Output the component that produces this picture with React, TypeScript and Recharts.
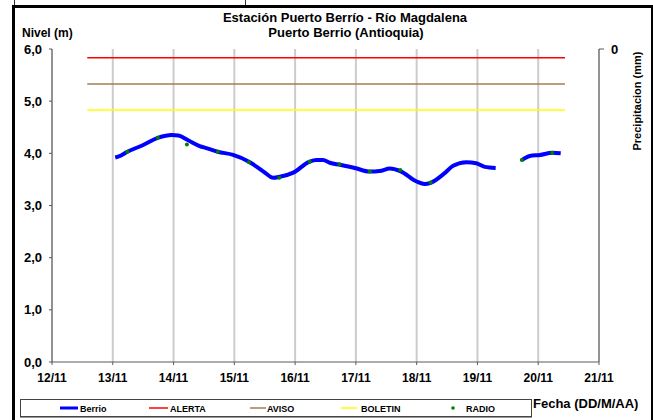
import React from 'react';
import { ComposedChart, Line, XAxis, YAxis, CartesianGrid, Legend } from 'recharts';

const xTicks = [12, 13, 14, 15, 16, 17, 18, 19, 20, 21];
const yTicks = [0, 1, 2, 3, 4, 5, 6];
const gridY = [0, 0.5, 1, 1.5, 2, 2.5, 3, 3.5, 4, 4.5, 5, 5.5, 6];
const precipTicks = [0];

const berrioDays = [13.04, 13.1, 13.24, 13.5, 13.75, 13.97, 14.08, 14.24, 14.43, 14.54, 14.73, 14.98, 15.24, 15.48, 15.64, 15.75, 15.97, 16.24, 16.35, 16.46, 16.57, 16.74, 16.98, 17.23, 17.39, 17.56, 17.73, 18.0, 18.13, 18.24, 18.44, 18.6, 18.82, 18.98, 19.12, 19.3, 19.5, 19.73, 19.86, 20.03, 20.23, 20.37];
const berrioLevels: (number | null)[] = [3.92, 3.94, 4.03, 4.16, 4.3, 4.35, 4.34, 4.25, 4.14, 4.1, 4.03, 3.97, 3.84, 3.65, 3.53, 3.55, 3.63, 3.84, 3.87, 3.87, 3.82, 3.78, 3.72, 3.65, 3.66, 3.71, 3.66, 3.46, 3.41, 3.44, 3.6, 3.76, 3.83, 3.81, 3.74, 3.72, null, 3.87, 3.95, 3.97, 4.01, 4.0];

const radioDays = [13.24, 13.74, 14.22, 14.73, 15.24, 15.74, 16.24, 16.73, 17.23, 17.73, 18.23, 19.73, 20.23];
const radioLevels = [4.03, 4.3, 4.17, 4.03, 3.83, 3.53, 3.84, 3.79, 3.65, 3.68, 3.44, 3.87, 4.01];

const thresholdDays = [12.58, 20.44];
const alerta = 5.83;
const aviso = 5.33;
const boletin = 4.83;

const berrioData = berrioDays.map((x, i) => ({ x, y: berrioLevels[i] }));
const radioData = radioDays.map((x, i) => ({ x, y: radioLevels[i] }));
const alertaData = thresholdDays.map((x) => ({ x, y: alerta }));
const avisoData = thresholdDays.map((x) => ({ x, y: aviso }));
const boletinData = thresholdDays.map((x) => ({ x, y: boletin }));
const precipData = thresholdDays.map((x) => ({ x, y: 0 }));

const FONT = '"Liberation Sans", Arial, sans-serif';
const AXIS = '#5a5a5a';

const LegendBox = () => (
  <svg width={512} height={19} style={{ display: 'block' }}>
    <rect x={0.5} y={0.5} width={511} height={17} fill="#fff" stroke="#444" strokeWidth={1} />
    <line x1={0} y1={18.5} x2={512} y2={18.5} stroke="#999" strokeWidth={1} />
    <g fontFamily={FONT} fontWeight="bold" fontSize={9} fill="#000">
      <line x1={40} y1={9} x2={58} y2={9} stroke="#0000ff" strokeWidth={3} />
      <text x={60} y={12.5}>Berrio</text>
      <line x1={129} y1={9} x2={148} y2={9} stroke="#ff0000" strokeWidth={1.5} />
      <text x={150} y={12.5}>ALERTA</text>
      <line x1={230} y1={9} x2={246} y2={9} stroke="#a57c52" strokeWidth={1.5} />
      <text x={247} y={12.5}>AVISO</text>
      <line x1={321} y1={9} x2={337} y2={9} stroke="#ffff00" strokeWidth={1.5} />
      <text x={341} y={12.5}>BOLETIN</text>
      <circle cx={433} cy={9} r={1.8} fill="#008000" />
      <text x={446} y={12.5}>RADIO</text>
    </g>
  </svg>
);

export default function App() {
  return (
    <div style={{ position: 'absolute', left: 0, top: 0, width: 653, height: 420, background: '#fff', overflow: 'hidden', fontFamily: FONT }}>
      <ComposedChart
        width={653}
        height={420}
        margin={{ top: 49, right: 0, bottom: 9, left: 0 }}
        style={{ position: 'absolute', left: 0, top: 0 }}
      >
        <text x={345} y={22} textAnchor="middle" fontFamily={FONT} fontWeight="bold" fontSize={13} fill="#000">Estación Puerto Berrío - Río Magdalena</text>
        <text x={346} y={37} textAnchor="middle" fontFamily={FONT} fontWeight="bold" fontSize={13} fill="#000">Puerto Berrio (Antioquia)</text>
        <text x={22} y={37} fontFamily={FONT} fontWeight="bold" fontSize={12} fill="#000">Nivel (m)</text>
        <text x={533} y={408} fontFamily={FONT} fontWeight="bold" fontSize={13} fill="#000">Fecha (DD/M/AA)</text>
        <text x={641} y={101} transform="rotate(-90 641 101)" textAnchor="middle" fontFamily={FONT} fontWeight="bold" fontSize={11} fill="#000">Precipitacion (mm)</text>
        <CartesianGrid
          stroke="#cccccc"
          strokeWidth={2}
          horizontalValues={gridY}
          verticalValues={xTicks}
        />
        <XAxis
          type="number"
          dataKey="x"
          domain={[12, 21]}
          ticks={xTicks}
          interval={0}
          tickFormatter={(v: number) => `${v}/11`}
          height={30}
          tickSize={3}
          tickMargin={8}
          stroke={AXIS}
          tick={{ fill: '#000', fontSize: 12, fontWeight: 'bold', fontFamily: FONT }}
          allowDataOverflow
        />
        <YAxis
          yAxisId="n"
          type="number"
          domain={[0, 6]}
          ticks={yTicks}
          interval={0}
          width={52}
          tickSize={3}
          tickMargin={7}
          stroke={AXIS}
          tickFormatter={(v: number) => v.toFixed(1).replace('.', ',')}
          tick={{ fill: '#000', fontSize: 13, fontWeight: 'bold', fontFamily: FONT }}
        />
        <YAxis
          yAxisId="p"
          orientation="right"
          type="number"
          domain={[0, 50]}
          reversed
          ticks={precipTicks}
          interval={0}
          width={54}
          tickSize={5}
          tickMargin={7}
          stroke={AXIS}
          tick={{ fill: '#000', fontSize: 13, fontWeight: 'bold', fontFamily: FONT }}
        />
        <Line yAxisId="p" data={precipData} dataKey="y" stroke="none" dot={false} isAnimationActive={false} name="Precipitacion" legendType="none" />
        <Line yAxisId="n" data={alertaData} dataKey="y" stroke="#ff0000" strokeWidth={1.5} dot={false} isAnimationActive={false} name="ALERTA" />
        <Line yAxisId="n" data={avisoData} dataKey="y" stroke="#a57c52" strokeWidth={1.5} dot={false} isAnimationActive={false} name="AVISO" />
        <Line yAxisId="n" data={boletinData} dataKey="y" stroke="#ffff00" strokeWidth={1.5} dot={false} isAnimationActive={false} name="BOLETIN" />
        <Line yAxisId="n" data={berrioData} dataKey="y" type="monotone" stroke="#0000ff" strokeWidth={4} dot={false} connectNulls={false} isAnimationActive={false} name="Berrio" />
        <Line yAxisId="n" data={radioData} dataKey="y" stroke="none" dot={{ r: 2, fill: '#008000', stroke: 'none' }} isAnimationActive={false} name="RADIO" />
        <Legend
          content={() => <LegendBox />}
          wrapperStyle={{ position: 'absolute', left: 20, top: 399, width: 512, height: 19, bottom: 'auto' }}
        />
      </ComposedChart>
      <div style={{ position: 'absolute', left: 14, top: 0, width: 1, height: 6, background: '#333' }} />
      <div style={{ position: 'absolute', left: 245, top: 0, width: 1, height: 6, background: '#333' }} />
      <div style={{ position: 'absolute', left: 12, top: 5, width: 636, height: 430, border: '3px solid #000', boxSizing: 'content-box', pointerEvents: 'none' }} />
    </div>
  );
}
